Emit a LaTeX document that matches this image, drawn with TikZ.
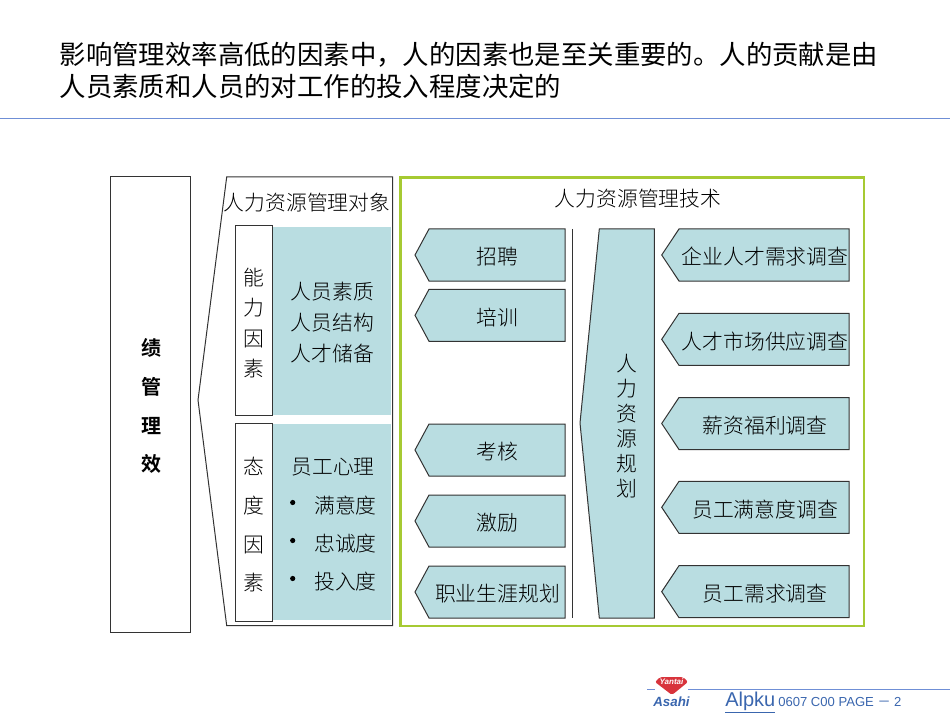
\documentclass[tikz,border=0pt]{standalone}
\usepackage{fontspec}
\setmainfont{Noto Sans CJK SC}[UprightFont=* Light,BoldFont=* Bold]
\newfontfamily\titlefont{Noto Sans CJK SC}
\newfontfamily\footfont{Liberation Sans}
\usetikzlibrary{calc,positioning}
\definecolor{tealfill}{HTML}{B9DDE1}
\definecolor{limeline}{HTML}{A6CA32}
\definecolor{ruleblue}{HTML}{6F8FD6}
\definecolor{footblue}{HTML}{3A66AE}
\definecolor{logored}{HTML}{D8343C}
\tikzset{>=latex}
\tikzset{outline/.style={draw=black!80,line width=0.75pt}}
\tikzset{shapefill/.style={outline,fill=tealfill}}
\tikzset{bodytext/.style={font=\fontsize{15.6}{18.75}\selectfont,inner sep=0pt,align=center}}
\tikzset{titletext/.style={font=\titlefont\fontsize{19.8}{24}\selectfont,inner sep=0pt,anchor=west,text=black}}
\tikzset{rulebar/.style={draw=ruleblue,line width=0.75pt}}
% pentagon pointing left: tip x, shoulder x, right x, top y, height, centre x, name, label
\newcommand{\pentbox}[8]{
  \draw[shapefill] (#1,#4+#5/2) -- (#2,#4) -- (#3,#4) -- (#3,#4+#5) -- (#2,#4+#5) -- cycle;
  \node[bodytext] (#7) at (#6,#4+#5/2+2) {#8};
}
\begin{document}
\begin{tikzpicture}[x=0.75pt,y=-0.75pt]
      \useasboundingbox (0,0) rectangle (950,713);
      % heading
      \node[titletext] (headone) at (59.5,54.5) {影响管理效率高低的因素中，人的因素也是至关重要的。人的贡献是由};
      \node[titletext] (headtwo) at (59.5,86.5) {人员素质和人员的对工作的投入程度决定的};
      \coordinate (ruleL) at (0,119);
      \coordinate (ruleR) at (950,119);
      \draw[rulebar] (ruleL) -- (ruleR);
      % left column
      \draw[outline] (110,177) rectangle (190.5,632);
      \node[bodytext,font=\bfseries\fontsize{15}{29.2}\selectfont] (perf) at (151,406) {绩\\管\\理\\效};
      \draw[outline] (226.7,177) -- (392.7,177) -- (392.7,625.7) -- (226.7,625.7) -- (198,400) -- cycle;
      \node[bodytext] (objtitle) at (307,203) {人力资源管理对象};
      % ability and attitude
      \fill[tealfill] (273,227) rectangle (391,415);
      \fill[tealfill] (273,424) rectangle (391,620);
      \draw[outline] (235.3,226) rectangle (272.3,415.7);
      \draw[outline] (235.3,423.7) rectangle (272.3,621);
      \node[bodytext,font=\fontsize{15.6}{22.7}\selectfont] (ability) at (254,323) {能\\力\\因\\素};
      \node[bodytext,font=\fontsize{15.6}{29}\selectfont] (attitude) at (254,525) {态\\度\\因\\素};
      \node[bodytext,font=\fontsize{15.6}{23.2}\selectfont] (abilitytxt) at (332.5,323) {人员素质\\人员结构\\人才储备};
      \node[bodytext] (mind) at (333,467) {员工心理};
      \foreach \nm/\ya/\txt in {sat/505/满意度,loyal/543/忠诚度,input/581/投入度}{
        \node[bodytext] (\nm) at (345.5,\ya+1) {\txt};
        \fill[black] (292.7,\ya-2.5) circle (2.6);
      }
      % technique panel
      \draw[draw=limeline,line width=1.6pt] (400.5,177.5) rectangle (864,626);
      \node[bodytext] (techtitle) at (638,199) {人力资源管理技术};
      \foreach \nm/\ya/\txt in {hire/229/招聘,train/289.3/培训,exam/424/考核,spur/495/激励,career/566/职业生涯规划}{
        \pentbox{415}{429}{565}{\ya}{52}{497.5}{\nm}{\txt}
      }
      \coordinate (splitT) at (572.3,229);
      \coordinate (splitB) at (572.3,618);
      \draw[outline] (splitT) -- (splitB);
      \draw[shapefill] (599.3,229) -- (654.3,229) -- (654.3,618) -- (599.3,618) -- (580,423) -- cycle;
      \node[bodytext] (plan) at (627,426) {人\\力\\资\\源\\规\\划};
      \foreach \nm/\ya/\txt in {needco/229/企业人才需求调查,market/313.3/人才市场供应调查,salary/397.5/薪资福利调查,satis/481.3/员工满意度调查,needstaff/565.7/员工需求调查}{
        \pentbox{661.7}{679}{849}{\ya}{52}{765}{\nm}{\txt}
      }
      % footer
      \coordinate (footA) at (647,689);
      \coordinate (footB) at (655,689);
      \coordinate (footC) at (688,689);
      \coordinate (footD) at (950,689);
      \draw[rulebar] (footA) -- (footB);
      \draw[rulebar] (footC) -- (footD);
      \fill[logored,rounded corners=1.5] (655,682) -- (660,677) -- (683,677) -- (688,682) -- (672,695) -- cycle;
      \node[font=\footfont\bfseries\itshape\fontsize{6}{6}\selectfont,text=white,inner sep=0pt] (yantai) at (671.5,681.5) {Yantai};
      \node[font=\footfont\bfseries\itshape\fontsize{10}{10}\selectfont,text=footblue,inner sep=0pt] (asahi) at (671.5,702) {Asahi};
      \node[font=\footfont\fontsize{15}{15}\selectfont,text=footblue,inner sep=0pt,anchor=base west] (brand) at (725,706) {\underline{Alpku}};
      \node[font=\footfont\fontsize{9.8}{9.8}\selectfont,text=footblue,inner sep=0pt,anchor=base west] (pageno) at (778,706) {0607 C00 PAGE {\titlefont－} 2};
    \end{tikzpicture}
\end{document}
